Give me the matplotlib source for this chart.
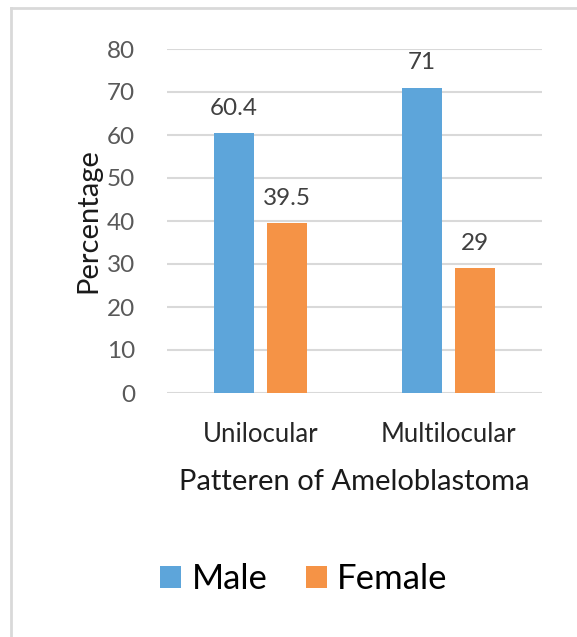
import matplotlib.pyplot as plt
import numpy as np

categories = ["Unilocular", "Multilocular"]
male = [60.4, 71]
female = [39.5, 29]
male_labels = ["60.4", "71"]
female_labels = ["39.5", "29"]
yticks = [0, 10, 20, 30, 40, 50, 60, 70, 80]

plt.rcParams['font.family'] = ['Lato', 'DejaVu Sans']

fig = plt.figure(figsize=(5.77, 6.37), dpi=100)
# plot area: x 167..542 px, y 49..393 px
ax = fig.add_axes([167 / 577, 1 - 393 / 637, 375 / 577, 344 / 637])

x = np.arange(len(categories))
w = 0.213
b1 = ax.bar(x - 0.142, male, w, color="#5DA5DA", label="Male", zorder=3)
b2 = ax.bar(x + 0.142, female, w, color="#F59346", label="Female", zorder=3)

# data labels above bars
for bars, labs in ((b1, male_labels), (b2, female_labels)):
    for r, t in zip(bars, labs):
        ax.text(r.get_x() + r.get_width() / 2, r.get_height() + 4.3, t,
                ha="center", va="baseline", fontsize=17.5, color="#404040")

ax.set_xlim(-0.5, 1.5)
ax.set_ylim(0, 80)
ax.set_yticks(yticks)
ax.set_xticks(x)
ax.set_xticklabels(categories, fontsize=18.5, color="#262626")
ax.tick_params(axis="y", labelsize=17.5, colors="#595959", length=0, pad=23)
ax.tick_params(axis="x", length=0, pad=21)
ax.grid(axis="y", color="#d9d9d9", linewidth=1.5, zorder=0)
for s in ax.spines.values():
    s.set_visible(False)

ax.set_xlabel("Patteren of Ameloblastoma", fontsize=21, color="#1a1a1a", labelpad=16)
ax.set_ylabel("Percentage", fontsize=21, color="#1a1a1a", labelpad=4)

fig.legend(handles=[b1, b2], loc="center", bbox_to_anchor=(304 / 577, 1 - 579 / 637),
           ncol=2, frameon=False, fontsize=25, handlelength=0.6, handleheight=0.6,
           handletextpad=0.3, columnspacing=1.1)

# outer chart frame (top and left edges visible)
fig.add_artist(plt.Line2D([11 / 577, 1.0], [1 - 8 / 637, 1 - 8 / 637], color="#d9d9d9", lw=2))
fig.add_artist(plt.Line2D([11 / 577, 11 / 577], [0.0, 1 - 8 / 637], color="#d9d9d9", lw=2))

fig.savefig("out.png", dpi=100)
